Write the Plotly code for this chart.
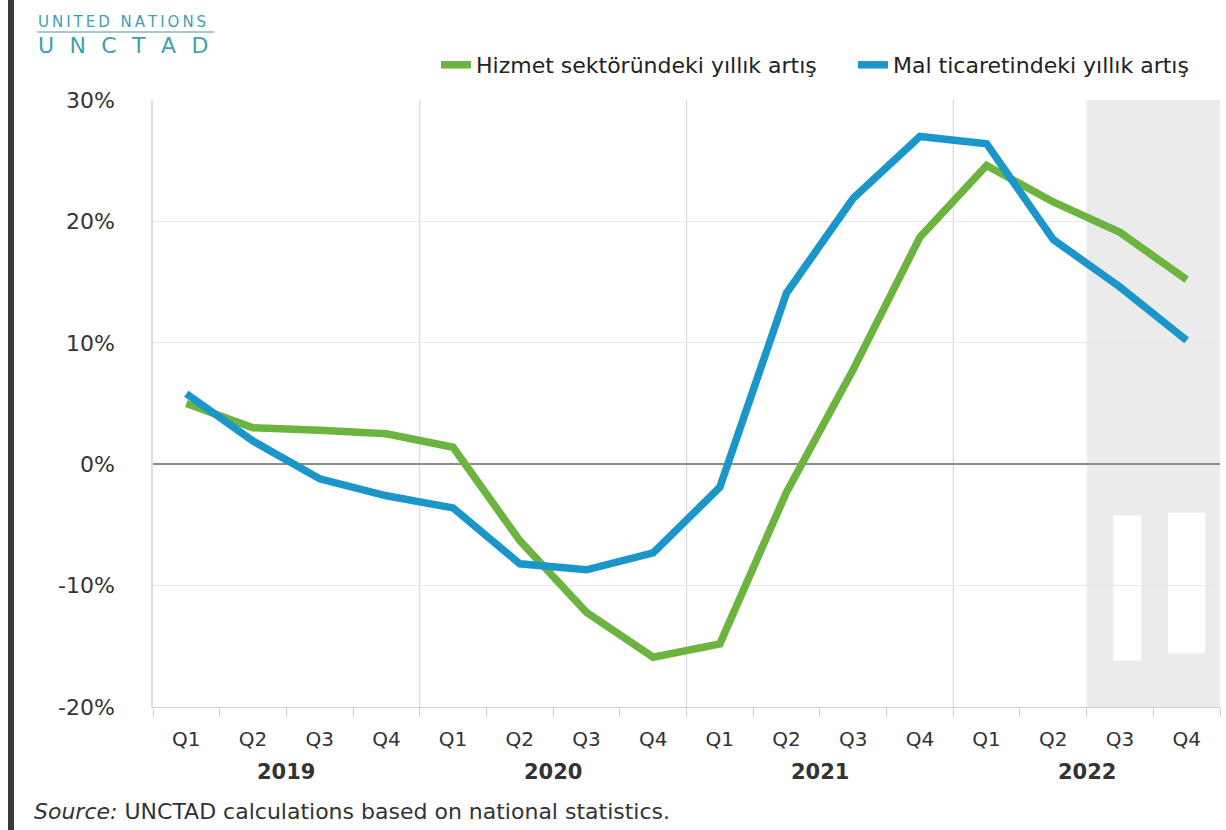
import plotly.graph_objects as go

years = ["2019", "2020", "2021", "2022"]
quarters = ["Q1", "Q2", "Q3", "Q4"]
quarter_labels = [q for y in years for q in quarters]
positions = list(range(len(quarter_labels)))

services_name = "Hizmet sektöründeki yıllık artış"
goods_name = "Mal ticaretindeki yıllık artış"
services = [5.0, 3.0, 2.8, 2.5, 1.4, -6.3, -12.2, -15.9, -14.8, -2.3, 7.8, 18.7, 24.6, 21.6, 19.1, 15.2]
goods = [5.8, 1.9, -1.2, -2.6, -3.6, -8.2, -8.7, -7.3, -1.9, 14.1, 21.9, 27.0, 26.4, 18.5, 14.6, 10.2]

y_ticks = [-20, -10, 0, 10, 20, 30]
y_tick_labels = ["-20%", "-10%", "0%", "10%", "20%", "30%"]

GREEN = "#6db33f"
BLUE = "#1a96c9"
FONT = "DejaVu Sans"

fig = go.Figure()
fig.add_trace(go.Scatter(x=positions, y=services, mode="lines", name=services_name,
                         line=dict(color=GREEN, width=7.5)))
fig.add_trace(go.Scatter(x=positions, y=goods, mode="lines", name=goods_name,
                         line=dict(color=BLUE, width=7.5)))

L, R, T, B = 153, 6, 100, 123
W, H = 1226, 830
pw, ph = W - L - R, H - T - B


def px(xp):
    return (xp - L) / pw


def py(yp):
    return (H - B - yp) / ph


shapes = []
shapes.append(dict(type="rect", xref="x", yref="paper", x0=13.5, x1=15.5, y0=0, y1=1,
                   fillcolor="#ebebeb", line=dict(width=0), layer="below"))
for xv in [3.5, 7.5, 11.5]:
    shapes.append(dict(type="line", xref="x", yref="paper", x0=xv, x1=xv, y0=0, y1=1,
                       line=dict(color="#d9d9d9", width=1.2), layer="below"))
shapes.append(dict(type="rect", xref="x", yref="y", x0=13.9, x1=14.32, y0=-16.2, y1=-4.2,
                   fillcolor="white", line=dict(width=0), layer="below"))
shapes.append(dict(type="rect", xref="x", yref="y", x0=14.72, x1=15.28, y0=-15.6, y1=-4.0,
                   fillcolor="white", line=dict(width=0), layer="below"))
shapes.append(dict(type="rect", xref="paper", yref="paper", x0=px(8), x1=px(14), y0=py(832), y1=py(-2),
                   fillcolor="#3a3a3a", line=dict(width=0), layer="above"))
shapes.append(dict(type="line", xref="paper", yref="paper", x0=px(37), x1=px(214), y0=py(32), y1=py(32),
                   line=dict(color="#5a8f9a", width=1.2)))

TS = "\u2009"
annotations = []
for i, yr in enumerate(years):
    annotations.append(dict(text="<b>" + yr + "</b>", x=i * 4 + 1.5, xref="x", y=py(772), yref="paper",
                            showarrow=False, font=dict(family=FONT, size=21, color="#333333"),
                            xanchor="center", yanchor="middle"))
annotations.append(dict(text=TS.join("UNITED NATIONS"), x=px(36), xref="paper", y=py(22), yref="paper",
                        showarrow=False, font=dict(family=FONT, size=15, color="#3e9fb3"),
                        xanchor="left", yanchor="middle"))
annotations.append(dict(text="U\u2002\u2009N\u2002\u2009C\u2002\u2009T\u2002\u2009A\u2002\u2009D",
                        x=px(36), xref="paper", y=py(45), yref="paper",
                        showarrow=False, font=dict(family=FONT, size=22, color="#3e9fb3"),
                        xanchor="left", yanchor="middle"))
annotations.append(dict(text="<i>Source:</i> UNCTAD calculations based on national statistics.",
                        x=px(32), xref="paper", y=py(811), yref="paper",
                        showarrow=False, font=dict(family=FONT, size=22, color="#333333"),
                        xanchor="left", yanchor="middle"))

fig.update_layout(
    width=W, height=H,
    margin=dict(l=L, r=R, t=T, b=B, autoexpand=False),
    paper_bgcolor="white", plot_bgcolor="white",
    shapes=shapes, annotations=annotations,
    showlegend=True,
    legend=dict(orientation="h", x=px(436), xanchor="left", y=py(65), yanchor="middle",
                font=dict(family=FONT, size=22, color="#222222"), itemwidth=30,
                entrywidth=372, entrywidthmode="pixels",
                bgcolor="rgba(0,0,0,0)", traceorder="normal"),
    xaxis=dict(range=[-0.5, 15.5], tickmode="array", tickvals=positions, ticktext=quarter_labels,
               showgrid=False, zeroline=False, showline=True, linecolor="#d0d0d0", linewidth=1,
               ticks="", ticklabelstandoff=14,
               tickfont=dict(family=FONT, size=20, color="#333333"),
               minor=dict(tickmode="array", tickvals=[p - 0.5 for p in positions] + [15.5],
                          ticks="outside", ticklen=9, tickcolor="#d0d0d0", tickwidth=1, showgrid=False),
               fixedrange=True),
    yaxis=dict(range=[-20, 30], tickmode="array", tickvals=y_ticks, ticktext=y_tick_labels,
               showgrid=True, gridcolor="#e8e8e8", gridwidth=1,
               zeroline=True, zerolinecolor="#8c8c8c", zerolinewidth=1.5,
               showline=True, linecolor="#dddddd", linewidth=1.5, ticks="",
               ticklabelstandoff=32,
               tickfont=dict(family=FONT, size=22, color="#333333"), fixedrange=True),
)

fig.write_html("out.html")
